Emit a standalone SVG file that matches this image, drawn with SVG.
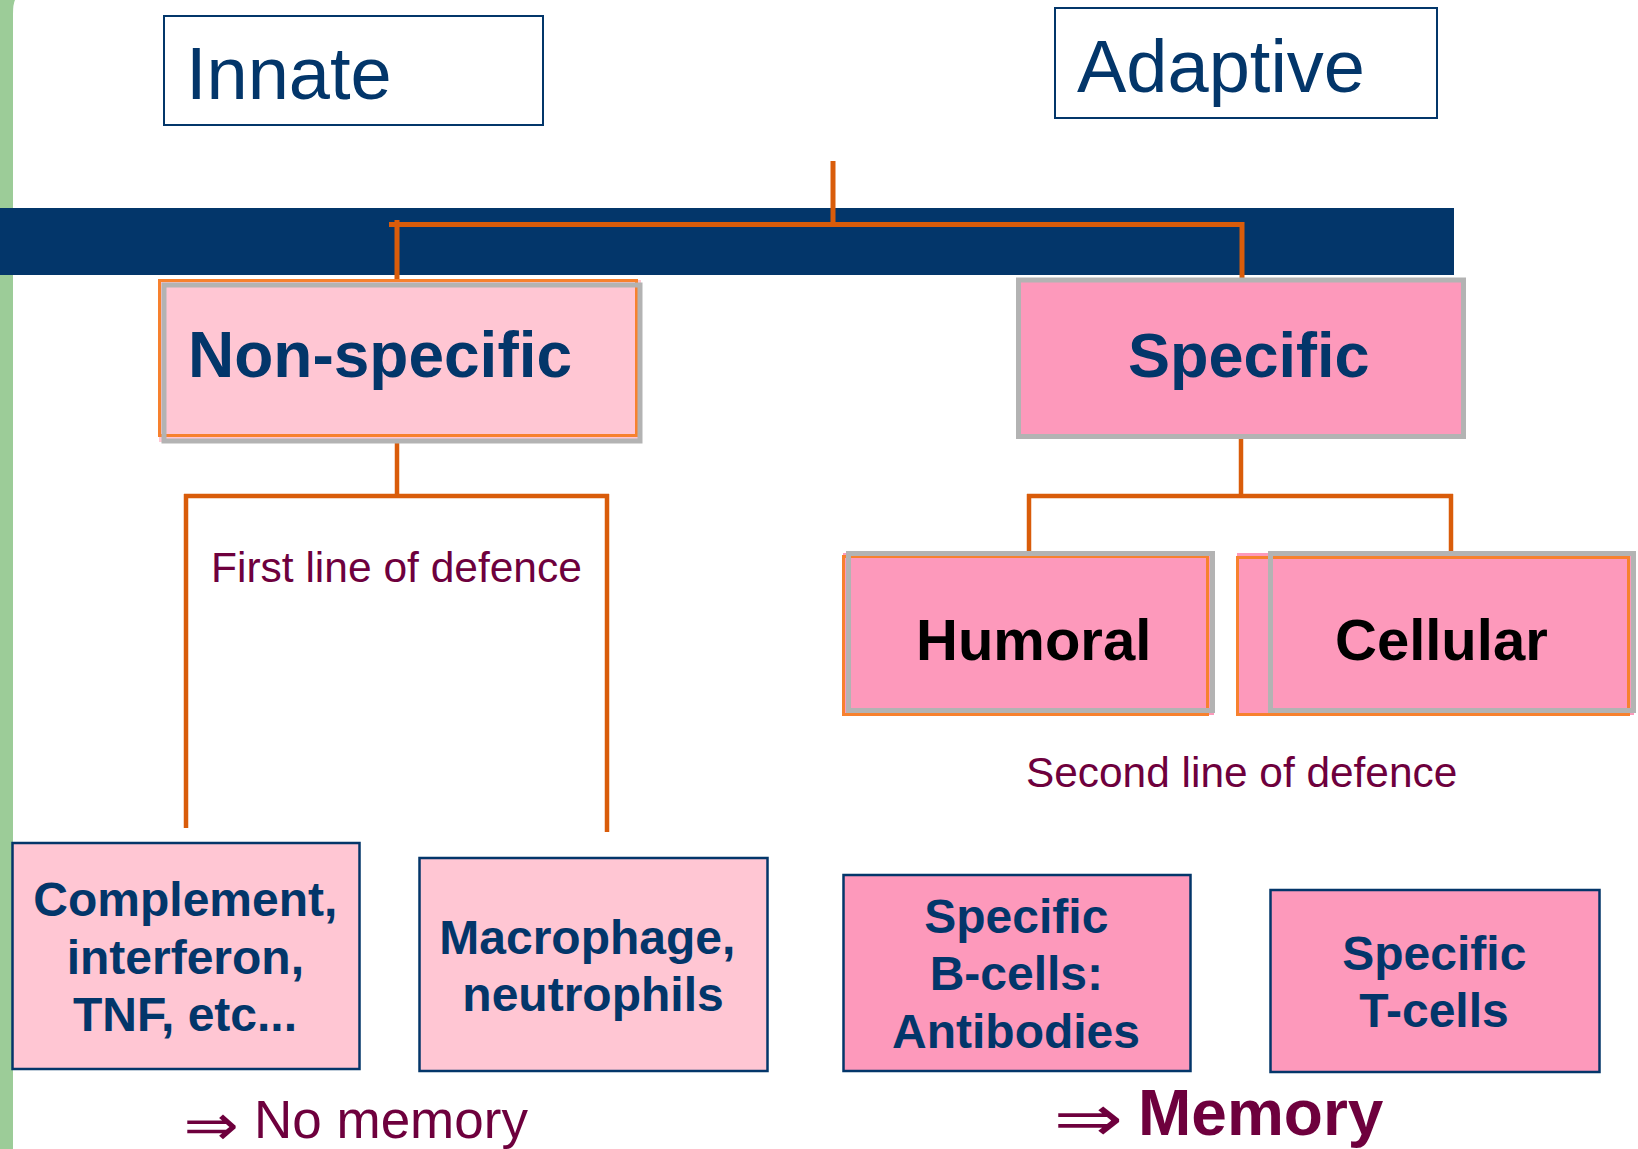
<svg xmlns="http://www.w3.org/2000/svg" width="1638" height="1149" viewBox="0 0 1638 1149">
<style>
.t{font-family:"Liberation Sans",Arial,sans-serif;}
.b{font-family:"Liberation Sans",Arial,sans-serif;font-weight:bold;}
.blue{fill:#03366a;}
.mar{fill:#6e003d;}
.hdr{fill:#ffffff;stroke:#03366a;stroke-width:2;}
.lp{fill:#ffc6d3;}
.dp{fill:#fd99bb;}
.ob{fill:none;stroke:#f7812e;stroke-width:3;}
.gb{fill:none;stroke:#b3b3b3;stroke-width:5;}
.bb{stroke:#03366a;stroke-width:2.5;}
.con{fill:none;stroke:#d95c0a;stroke-width:5;}
.con2{fill:none;stroke:#d95c0a;stroke-width:4.5;}
.arr{font-family:"DejaVu Sans",sans-serif;}
</style>
<rect width="1638" height="1149" fill="#ffffff"/>
<path d="M0,0 H15 Q13,4 13,14 V1149 H0 Z" fill="#9ccc98"/>
<rect x="0" y="208" width="1454" height="67" fill="#03366a"/>

<g id="connectors">
<line class="con" x1="833" y1="161" x2="833" y2="224"/>
<line class="con" x1="389" y1="224.5" x2="1240" y2="224.5"/>
<line class="con" x1="397" y1="220" x2="397" y2="279"/>
<line class="con" x1="1242" y1="222" x2="1242" y2="281"/>
<line class="con2" x1="397" y1="443" x2="397" y2="496"/>
<line class="con2" x1="184" y1="496" x2="609" y2="496"/>
<line class="con2" x1="186" y1="494" x2="186" y2="828"/>
<line class="con2" x1="607" y1="494" x2="607" y2="832"/>
<line class="con2" x1="1241" y1="437" x2="1241" y2="496"/>
<line class="con2" x1="1027" y1="496" x2="1453" y2="496"/>
<line class="con2" x1="1029" y1="494" x2="1029" y2="554"/>
<line class="con2" x1="1451" y1="494" x2="1451" y2="554"/>
</g>

<g id="innate">
<rect class="hdr" x="164" y="16" width="379" height="109"/>
<text class="t blue" x="186" y="99" font-size="74">Innate</text>
</g>
<g id="adaptive">
<rect class="hdr" x="1055" y="8" width="382" height="110"/>
<text class="t blue" x="1077" y="92" font-size="74">Adaptive</text>
</g>

<g id="non-specific">
<rect class="lp" x="159" y="280" width="482" height="162"/>
<rect class="ob" x="159.5" y="280.5" width="477" height="155"/>
<rect class="gb" x="164" y="285" width="476" height="156"/>
<text class="b blue" x="188" y="377" font-size="64">Non-specific</text>
</g>

<g id="specific">
<rect class="dp" x="1018.5" y="280" width="445" height="156.5" stroke="#b3b3b3" stroke-width="5"/>
<text class="b blue" x="1128" y="377" font-size="63">Specific</text>
</g>

<g id="first-line">
<text class="t mar" x="211" y="582" font-size="42.5">First line of defence</text>
</g>

<g id="humoral">
<rect class="dp" x="843" y="553" width="371" height="162"/>
<rect class="ob" x="843.5" y="556.5" width="364" height="158"/>
<rect class="gb" x="848.5" y="553.5" width="364" height="157"/>
<text class="b" x="916" y="660" font-size="58" fill="#000000">Humoral</text>
</g>

<g id="cellular">
<rect class="dp" x="1237" y="553" width="397" height="162"/>
<rect class="ob" x="1237.5" y="557.5" width="391" height="157"/>
<rect class="gb" x="1270.5" y="553.5" width="363" height="157"/>
<text class="b" x="1335" y="660" font-size="58" fill="#000000">Cellular</text>
</g>

<g id="second-line">
<text class="t mar" x="1026" y="787" font-size="42.4">Second line of defence</text>
</g>

<g id="complement">
<rect class="lp bb" x="12.5" y="843" width="347" height="226"/>
<text class="b blue" font-size="48" text-anchor="middle">
<tspan x="192" y="916">Complement,</tspan>
<tspan x="192" y="974">interferon,</tspan>
<tspan x="185" y="1031">TNF, etc...</tspan>
</text>
</g>

<g id="macrophage">
<rect class="lp bb" x="419.5" y="858" width="348" height="213"/>
<text class="b blue" font-size="48" text-anchor="middle">
<tspan x="594" y="954">Macrophage,</tspan>
<tspan x="593" y="1011">neutrophils</tspan>
</text>
</g>

<g id="b-cells">
<rect class="dp bb" x="843.5" y="875" width="347" height="196"/>
<text class="b blue" font-size="48" text-anchor="middle">
<tspan x="1023" y="933">Specific</tspan>
<tspan x="1023" y="990">B-cells:</tspan>
<tspan x="1016" y="1048">Antibodies</tspan>
</text>
</g>

<g id="t-cells">
<rect class="dp bb" x="1270.5" y="890" width="329" height="182"/>
<text class="b blue" font-size="48" text-anchor="middle">
<tspan x="1441" y="970">Specific</tspan>
<tspan x="1434" y="1027">T-cells</tspan>
</text>
</g>

<g id="no-memory">
<text class="arr mar" x="183.4" y="1145" font-size="58" textLength="55.4" lengthAdjust="spacingAndGlyphs">⇒</text>
<text class="t mar" x="254" y="1138" font-size="53">No memory</text>
</g>

<g id="memory">
<text class="arr mar" x="1053.4" y="1141" font-size="65" textLength="69.7" lengthAdjust="spacingAndGlyphs">⇒</text>
<text class="b mar" x="1138" y="1135" font-size="64">Memory</text>
</g>
</svg>
